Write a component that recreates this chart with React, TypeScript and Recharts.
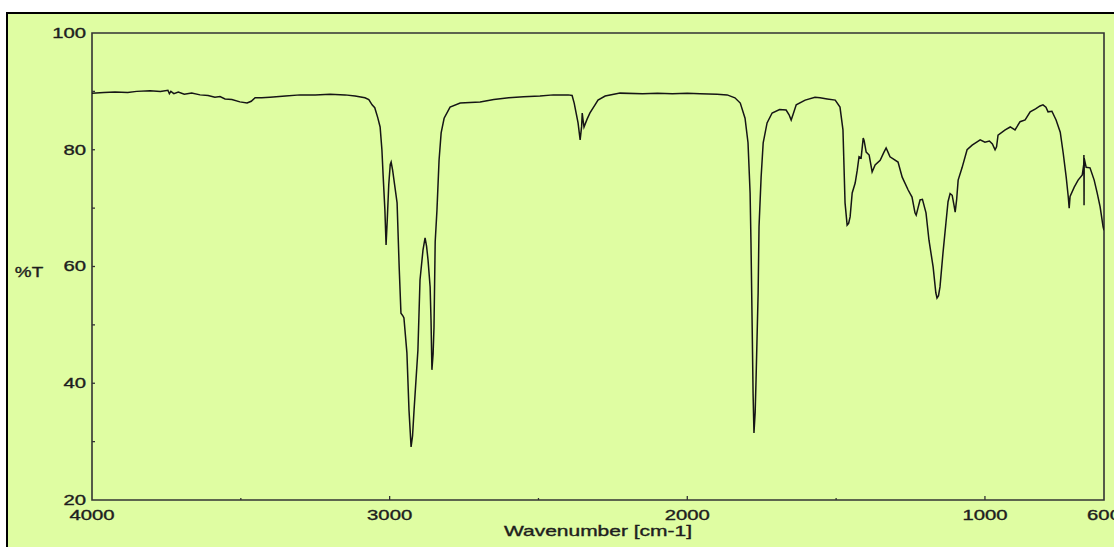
import { LineChart, Line, XAxis, YAxis, ReferenceArea } from 'recharts'

// IR spectrum (wavenumber in cm-1, transmittance in %T)
const wavenumbers = [
  4000, 3960, 3923, 3880, 3850, 3805, 3770, 3745, 3740, 3735, 3725, 3710, 3690, 3665, 3637, 3610,
  3587, 3570, 3553, 3530, 3503, 3479, 3465, 3452, 3430, 3402, 3350, 3301, 3250, 3200, 3150, 3116,
  3083, 3070, 3059, 3050, 3040, 3032, 3026, 3022, 3016, 3012, 3008, 3003, 2998, 2995, 2990, 2982,
  2975, 2968, 2962, 2955, 2952, 2942, 2935, 2928, 2923, 2918, 2905, 2898, 2888, 2881, 2876, 2871,
  2864, 2861, 2858, 2854, 2851, 2847, 2841, 2834, 2827, 2817, 2797, 2763, 2696, 2650, 2600, 2550,
  2495, 2450, 2400, 2387, 2380, 2367, 2360, 2355, 2353, 2350, 2347, 2337, 2327, 2310, 2300, 2276,
  2226, 2150, 2100, 2050, 2000, 1957, 1900, 1866, 1840, 1822, 1806, 1796, 1789, 1786, 1782, 1779,
  1776, 1772, 1769, 1762, 1759, 1752, 1745, 1732, 1715, 1690, 1668, 1658, 1651, 1645, 1634, 1604,
  1571, 1554, 1530, 1503, 1487, 1477, 1470, 1463, 1458, 1453, 1446, 1436, 1429, 1423, 1416, 1409,
  1406, 1399, 1389, 1379, 1369, 1352, 1340, 1332, 1325, 1319, 1292, 1278, 1258, 1245, 1235, 1231,
  1225, 1218, 1210, 1198, 1188, 1174, 1165, 1161, 1156, 1151, 1141, 1131, 1124, 1117, 1110, 1104,
  1100, 1095, 1090, 1077, 1060, 1043, 1016, 1000, 985, 975, 966, 961, 956, 932, 915, 899,
  882, 865, 848, 830, 815, 805, 795, 788, 775, 761, 747, 737, 727, 720, 717, 714,
  700, 687, 673, 668, 667.5, 667, 666.5, 660, 647, 633, 623, 613, 603, 600,
]

const transmittance = [
  89.7, 89.8, 89.9, 89.8, 90.0, 90.1, 90.0, 90.2, 89.6, 90.0, 89.6, 89.9, 89.5, 89.7, 89.4, 89.3,
  89.0, 89.1, 88.7, 88.6, 88.2, 88.0, 88.3, 88.9, 88.9, 89.0, 89.2, 89.4, 89.4, 89.5, 89.4, 89.2,
  88.9, 88.6, 87.7, 87.2, 85.5, 83.9, 80.0, 75.7, 69.7, 63.7, 68.0, 74.0, 77.5, 77.9, 76.5, 73.5,
  70.9, 59.9, 52.0, 51.5, 51.2, 45.2, 35.4, 29.1, 31.0, 35.4, 45.7, 57.7, 62.8, 64.9, 63.5, 61.1,
  56.5, 50.8, 42.3, 45.0, 49.6, 64.2, 69.7, 78.2, 82.9, 85.4, 87.3, 88.0, 88.2, 88.6, 88.9, 89.1,
  89.2, 89.4, 89.4, 89.3, 88.0, 84.6, 81.7, 84.0, 86.3, 85.0, 83.9, 85.2, 86.3, 87.7, 88.5, 89.2,
  89.7, 89.6, 89.7, 89.6, 89.7, 89.6, 89.5, 89.4, 88.9, 88.0, 85.4, 81.2, 72.6, 64.0, 49.6, 38.3,
  31.5, 35.0, 40.6, 55.5, 66.8, 75.3, 81.2, 84.6, 86.3, 86.9, 86.8, 86.0, 85.1, 86.0, 87.7, 88.5,
  89.0, 88.9, 88.7, 88.5, 87.3, 83.4, 70.9, 67.1, 67.4, 68.5, 72.6, 74.3, 76.5, 78.8, 78.6, 82.0,
  81.6, 79.6, 79.1, 76.2, 77.4, 78.2, 79.5, 80.3, 79.5, 78.8, 77.9, 75.3, 73.1, 71.9, 69.2, 68.8,
  70.0, 71.4, 71.5, 69.2, 64.5, 59.9, 55.5, 54.6, 55.0, 56.5, 62.3, 67.5, 71.1, 72.5, 72.2, 70.5,
  69.3, 71.5, 74.8, 76.9, 80.0, 80.8, 81.7, 81.3, 81.5, 81.0, 80.0, 80.5, 82.5, 83.4, 83.9, 83.4,
  84.8, 85.1, 86.5, 87.0, 87.5, 87.7, 87.3, 86.5, 86.6, 85.1, 83.0, 79.4, 75.3, 71.9, 70.0, 72.0,
  73.6, 74.8, 75.7, 77.5, 79.1, 70.5, 78.5, 77.0, 76.9, 74.8, 72.6, 70.2, 66.8, 66.2,
]

const xTicks = [4000, 3500, 3000, 2500, 2000, 1500, 1000, 600]
const xLabels = [4000, 3000, 2000, 1000, 600]
const yTicks = [20, 30, 40, 50, 60, 70, 80, 90, 100]
const yLabels = [20, 40, 60, 80, 100]

const data = wavenumbers.map((wn, i) => ({ wn, t: transmittance[i] }))

const BG = '#dffda2'
const INK = '#1e1e1e'
const FONT = '"Liberation Sans", Arial, sans-serif'

// text looks stretched horizontally in the original plot
function WideText({ x, y, children, anchor = 'middle', scale = 1.45 }: any) {
  return (
    <text
      transform={`translate(${x},${y}) scale(${scale},1)`}
      textAnchor={anchor}
      dominantBaseline="central"
      fontFamily={FONT}
      fontSize={14}
      fill={INK}
      stroke={INK}
      strokeWidth={0.35}
    >
      {children}
    </text>
  )
}

const XTick = (props: any) => {
  const { x, y, payload } = props
  const v = payload.value
  const major = xLabels.includes(v)
  return (
    <g>
      {v !== 600 && v !== 4000 && (
        <line x1={x} x2={x} y1={y} y2={y - (major ? 4 : 2)} stroke="#333" strokeWidth={1.3} />
      )}
      {major && <WideText x={x} y={y + 15}>{v}</WideText>}
    </g>
  )
}

const YTick = (props: any) => {
  const { x, y, payload } = props
  const v = payload.value
  return (
    <g>
      {v !== 20 && v !== 100 && (
        <line x1={x} x2={x + 3} y1={y} y2={y} stroke="#333" strokeWidth={1.3} />
      )}
      {yLabels.includes(v) && (
        <WideText x={x - 6} y={y} anchor="end">
          {v}
        </WideText>
      )}
    </g>
  )
}

export default function App() {
  return (
    <div
      style={{
        position: 'fixed',
        left: 0,
        top: 0,
        width: 1114,
        height: 547,
        overflow: 'hidden',
        background: '#fff',
      }}
    >
      <div
        style={{
          position: 'absolute',
          left: 6,
          top: 12,
          width: 1130,
          height: 600,
          border: '2px solid #000',
          background: BG,
        }}
      />
      <div style={{ position: 'absolute', left: 0, top: 0 }}>
        <LineChart width={1114} height={547} data={data} margin={{ top: 33, right: 10, bottom: 0, left: 0 }}>
          <XAxis
            type="number"
            dataKey="wn"
            domain={[600, 4000]}
            reversed
            ticks={xTicks}
            interval={0}
            height={47}
            axisLine={false}
            tickLine={false}
            tickSize={0}
            tickMargin={0}
            tick={XTick}
            allowDataOverflow
          />
          <YAxis
            type="number"
            domain={[20, 100]}
            ticks={yTicks}
            interval={0}
            width={92}
            axisLine={false}
            tickLine={false}
            tickSize={0}
            tickMargin={0}
            tick={YTick}
            allowDataOverflow
          />
          <ReferenceArea x1={4000} x2={600} y1={20} y2={100} fill="none" stroke="#333" strokeWidth={1.6} ifOverflow="visible" />
          <Line
            type="linear"
            dataKey="t"
            stroke="#151515"
            strokeWidth={1.5}
            dot={false}
            isAnimationActive={false}
          />
        </LineChart>
        <svg width={1114} height={547} style={{ position: 'absolute', left: 0, top: 0, pointerEvents: 'none' }}>
          <WideText x={598} y={531} scale={1.5}>
            Wavenumber [cm-1]
          </WideText>
          <WideText x={29} y={272} scale={1.35}>
            %T
          </WideText>
        </svg>
      </div>
    </div>
  )
}
